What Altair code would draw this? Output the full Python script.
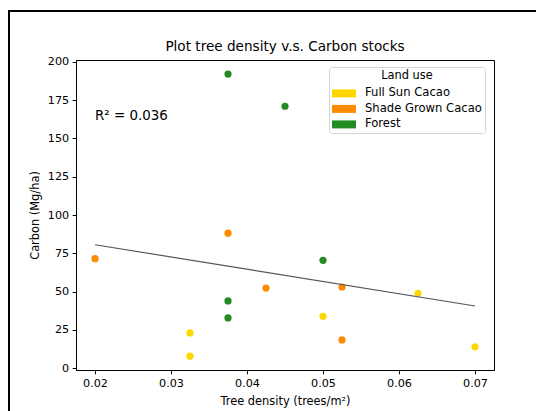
import altair as alt
import pandas as pd

# ---- data ----
density = [0.02, 0.0375, 0.05, 0.0425, 0.0525, 0.0625, 0.0375, 0.0375,
           0.05, 0.0325, 0.0325, 0.0525, 0.07, 0.0375, 0.045]
carbon = [71.5, 88.1, 70.4, 52.3, 53.0, 48.9, 43.9, 32.8,
          33.9, 23.0, 7.8, 18.4, 13.9, 192.0, 171.0]
land_use = ["Shade Grown Cacao", "Shade Grown Cacao", "Forest", "Shade Grown Cacao",
            "Shade Grown Cacao", "Full Sun Cacao", "Forest", "Forest",
            "Full Sun Cacao", "Full Sun Cacao", "Full Sun Cacao", "Shade Grown Cacao",
            "Full Sun Cacao", "Forest", "Forest"]
categories = ["Full Sun Cacao", "Shade Grown Cacao", "Forest"]
colors = ["#FFD700", "#FF8C00", "#228B22"]
x_ticks = [0.02, 0.03, 0.04, 0.05, 0.06, 0.07]
y_ticks = [0, 25, 50, 75, 100, 125, 150, 175, 200]
r2_text = ["R\u00b2 = 0.036"]

df = pd.DataFrame({"density": density, "carbon": carbon, "land_use": land_use})

FONT = "DejaVu Sans"
W, H = 418, 310

xscale = alt.Scale(domain=[0.0175, 0.0725], nice=False, zero=False)
yscale = alt.Scale(domain=[-1.2, 201.2], nice=False, zero=False)

x_axis = alt.Axis(values=x_ticks, format=".2f", labelOverlap=False,
                  title="Tree density (trees/m\u00b2)")
y_axis = alt.Axis(values=y_ticks, format="d", labelOverlap=False,
                  title="Carbon (Mg/ha)")

base = alt.Chart(df)

frame = alt.Chart(pd.DataFrame({"k": [0]})).mark_rect(
    fillOpacity=0, stroke="black", strokeWidth=2
).encode(
    x=alt.value(-67), x2=alt.value(W + 200),
    y=alt.value(-49), y2=alt.value(H + 200),
)

points = base.mark_circle(size=52, opacity=1).encode(
    x=alt.X("density:Q", scale=xscale, axis=x_axis),
    y=alt.Y("carbon:Q", scale=yscale, axis=y_axis),
    color=alt.Color("land_use:N",
                    scale=alt.Scale(domain=categories, range=colors),
                    legend=alt.Legend(title="Land use")),
)

line = base.transform_regression("density", "carbon").mark_line(
    color="#555555", strokeWidth=1.2
).encode(
    x=alt.X("density:Q", scale=xscale, axis=x_axis),
    y=alt.Y("carbon:Q", scale=yscale, axis=y_axis),
)

label = alt.Chart(pd.DataFrame({"t": r2_text})).mark_text(
    align="left", baseline="alphabetic", font=FONT, fontSize=13.4, color="black"
).encode(
    x=alt.X(datum=0.02, type="quantitative", scale=xscale, axis=x_axis),
    y=alt.Y(datum=162, type="quantitative", scale=yscale, axis=y_axis),
    text="t:N",
)

chart = alt.layer(frame, points, line, label).properties(
    width=W, height=H,
    title=alt.TitleParams("Plot tree density v.s. Carbon stocks",
                          font=FONT, fontSize=13.6, fontWeight="normal",
                          color="black", offset=-44, anchor="middle", frame="group"),
    autosize=alt.AutoSizeParams(type="none"),
    padding={"left": 68, "top": 52, "right": 42, "bottom": 41},
).configure_view(
    stroke="black", strokeWidth=1
).configure_axis(
    grid=False, labelOverlap=False,
    labelFont=FONT, labelFontSize=11.2, labelColor="black",
    titleFont=FONT, titleFontSize=11.4, titleFontWeight="normal", titleColor="black",
    domainColor="black", domainWidth=1,
    tickColor="black", tickSize=3.8, tickWidth=1,
    labelPadding=3.5, titlePadding=7,
).configure_legend(
    orient="none", legendX=253, legendY=7,
    strokeColor="#d5d5d5", fillColor="white", cornerRadius=3, padding=3,
    titleFont=FONT, titleFontSize=11.4, titleFontWeight="normal", titleColor="black",
    titleAnchor="middle", titlePadding=4,
    labelFont=FONT, labelFontSize=11.6, labelColor="black", labelOffset=17,
    symbolType="M-1,-0.5L2,-0.5L2,0.5L-1,0.5Z", symbolSize=256,
    symbolStrokeWidth=0, symbolOpacity=1, rowPadding=1.5,
)

chart.save("out.html", embed_options={"renderer": "svg", "actions": False})
